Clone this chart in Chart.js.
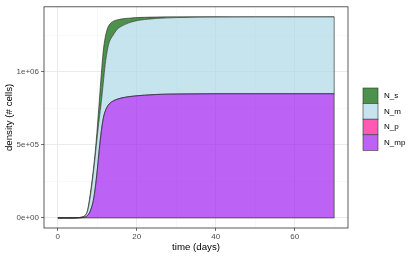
<!DOCTYPE html>
<html>
<head>
<meta charset="utf-8">
<script src="https://cdn.jsdelivr.net/npm/chart.js@4.4.0/dist/chart.umd.min.js"></script>
<style>
  html, body { margin: 0; padding: 0; background: #fff; }
  #wrap { width: 415px; height: 257px; }
</style>
</head>
<body>
<div id="wrap"><canvas id="chart"></canvas></div>
<script>
// time points (days) and cell densities per compartment
const days = [0, 2, 4, 5, 6, 7, 7.5, 8, 8.5, 9, 9.5, 10, 10.5, 11, 11.5, 12, 12.5, 13, 14, 15, 16, 18, 20, 22, 25, 30, 35, 40, 50, 60, 70];
const nMp = [0, 0, 0, 500, 2000, 7000, 16000, 35000, 68000, 120000, 210000, 330000, 470000, 590000, 680000, 730000, 760000, 780000, 800000, 812000, 820000, 830000, 836000, 840000, 845000, 848000, 849000, 850000, 850000, 850000, 850000];
const nP = [0, 0, 0, 0, 0, 0, 0, 0, 0, 0, 0, 0, 0, 0, 0, 0, 0, 0, 0, 0, 0, 0, 0, 0, 0, 0, 0, 0, 0, 0, 0];
const nM = [0, 0, 300, 1000, 3000, 11000, 29000, 75000, 132000, 190000, 220000, 230000, 210000, 200000, 240000, 320000, 380000, 420000, 450000, 478000, 490000, 505000, 514000, 518000, 520000, 523000, 525000, 525000, 526000, 526000, 526000];
const nS = [0, 0, 200, 500, 1000, 2000, 5000, 15000, 20000, 20000, 30000, 60000, 120000, 190000, 220000, 185000, 150000, 120000, 95000, 65000, 51000, 32000, 21000, 15000, 10000, 5000, 2000, 1000, 0, 0, 0];

const seriesNames = ["N_mp", "N_p", "N_m", "N_s"];
const seriesValues = [nMp, nP, nM, nS];
const seriesColors = ["rgba(160,32,240,0.7)", "rgba(255,20,147,0.7)", "rgba(173,216,230,0.7)", "rgba(0,100,0,0.7)"];

const xMajor = [0, 20, 40, 60];
const xMinor = [10, 30, 50, 70];
const yMajor = [0, 500000, 1000000];
const yMajorLabels = ["0e+00", "5e+05", "1e+06"];
const yMinor = [250000, 750000, 1250000];

const FONT = "'Liberation Sans', Arial, sans-serif";

// ggplot style 5% expansion of the data range
const totals = days.map((d, i) => seriesValues.reduce((s, arr) => s + arr[i], 0));
const yTop = Math.max(...totals);
const xSpan = days[days.length - 1] - days[0];

function gridStyle(majors) {
  return {
    color: c => (c.tick && majors.includes(c.tick.value)) ? "#EBEBEB" : "#F3F3F3",
    lineWidth: c => (c.tick && majors.includes(c.tick.value)) ? 1 : 0.5,
    tickColor: c => (c.tick && majors.includes(c.tick.value)) ? "#333333" : "rgba(0,0,0,0)",
    tickLength: 3,
    tickWidth: 0.7
  };
}

// panel border + closing edges of the areas
const panelFrame = {
  id: "panelFrame",
  afterDatasetsDraw(chart) {
    const ctx = chart.ctx;
    const xs = chart.scales.x, ys = chart.scales.y;
    const topMeta = chart.getDatasetMeta(seriesNames.length - 1);
    const last = days.length - 1;
    const xEnd = xs.getPixelForValue(days[last]);
    const y0 = ys.getPixelForValue(0);
    ctx.save();
    ctx.strokeStyle = "#222";
    ctx.lineWidth = 0.6;
    ctx.beginPath();
    ctx.moveTo(xs.getPixelForValue(days[0]), y0);
    ctx.lineTo(xEnd, y0);
    ctx.lineTo(xEnd, topMeta.data[last].y);
    ctx.stroke();
    ctx.restore();
  },
  afterDraw(chart) {
    const a = chart.chartArea;
    const ctx = chart.ctx;
    ctx.save();
    ctx.strokeStyle = "#333";
    ctx.lineWidth = 0.8;
    ctx.strokeRect(a.left, a.top, a.right - a.left, a.bottom - a.top);
    ctx.restore();
  }
};

const legendKeys = {
  id: "legendKeys",
  afterDraw(chart) {
    const ctx = chart.ctx;
    const a = chart.chartArea;
    const keyW = 15, keyH = 15.6;
    const x = a.right + 15;
    let y = 88;
    ctx.save();
    ctx.font = "8px " + FONT;
    ctx.textBaseline = "middle";
    for (let i = seriesNames.length - 1; i >= 0; i--) {
      ctx.fillStyle = "#fff";
      ctx.fillRect(x, y, keyW, keyH);
      ctx.fillStyle = seriesColors[i];
      ctx.fillRect(x, y, keyW, keyH);
      ctx.strokeStyle = "#333";
      ctx.lineWidth = 0.6;
      ctx.strokeRect(x, y, keyW, keyH);
      ctx.fillStyle = "#000";
      ctx.fillText(seriesNames[i], x + keyW + 6, y + keyH / 2);
      y += keyH;
    }
    ctx.restore();
  }
};

new Chart(document.getElementById("chart"), {
  type: "line",
  data: {
    labels: days,
    datasets: seriesNames.map((name, i) => ({
      label: name,
      data: days.map((d, j) => ({ x: d, y: seriesValues[i][j] })),
      backgroundColor: seriesColors[i],
      borderColor: "#222",
      borderWidth: 0.6,
      pointRadius: 0,
      cubicInterpolationMode: "monotone",
      fill: i === 0 ? "origin" : "-1"
    }))
  },
  options: {
    responsive: true,
    maintainAspectRatio: false,
    animation: false,
    layout: { padding: { top: 4, right: 67, left: 0, bottom: 0 } },
    plugins: {
      legend: { display: false },
      tooltip: { enabled: false }
    },
    scales: {
      x: {
        type: "linear",
        min: days[0] - xSpan * 0.05,
        max: days[days.length - 1] + xSpan * 0.05,
        afterBuildTicks: s => { s.ticks = xMajor.concat(xMinor).sort((a, b) => a - b).map(v => ({ value: v })); },
        afterFit: s => { s.height = 29; },
        grid: gridStyle(xMajor),
        border: { display: false },
        ticks: {
          autoSkip: false,
          maxRotation: 0,
          padding: 1,
          color: "#4D4D4D",
          font: { family: FONT, size: 8 },
          callback: v => xMajor.includes(v) ? String(v) : ""
        },
        title: {
          display: true,
          text: "time (days)",
          color: "#000",
          font: { family: FONT, size: 9.7 },
          padding: { top: 0, bottom: 4 }
        }
      },
      y: {
        stacked: true,
        min: -yTop * 0.05,
        max: yTop * 1.05,
        afterBuildTicks: s => { s.ticks = yMajor.concat(yMinor).sort((a, b) => a - b).map(v => ({ value: v })); },
        afterFit: s => { s.width = 44; },
        grid: gridStyle(yMajor),
        border: { display: false },
        ticks: {
          autoSkip: false,
          padding: 2,
          color: "#4D4D4D",
          font: { family: FONT, size: 8 },
          callback: v => yMajor.includes(v) ? yMajorLabels[yMajor.indexOf(v)] : ""
        },
        title: {
          display: true,
          text: "density (# cells)",
          color: "#000",
          font: { family: FONT, size: 9.7 },
          padding: { top: 4, bottom: 0 }
        }
      }
    }
  },
  plugins: [panelFrame, legendKeys]
});
</script>
</body>
</html>
